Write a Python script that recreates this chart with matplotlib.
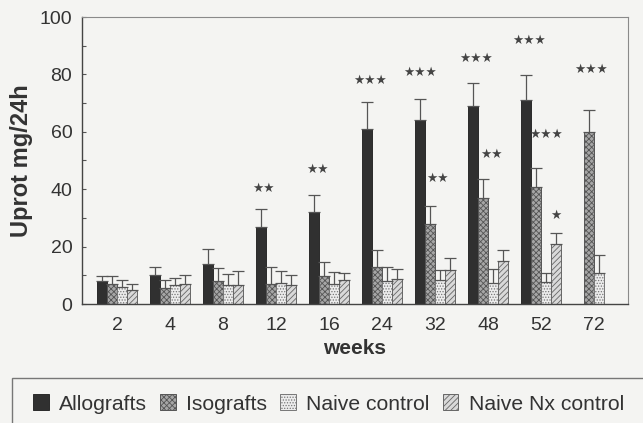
import numpy as np
import matplotlib
matplotlib.use("Agg")
import matplotlib.pyplot as plt
from matplotlib.patches import Rectangle, Patch

plt.rcParams["font.family"] = ["Liberation Sans", "DejaVu Sans"]
plt.rcParams["hatch.linewidth"] = 0.6

weeks = ["2", "4", "8", "12", "16", "24", "32", "48", "52", "72"]
series_names = ["Allografts", "Isografts", "Naive control", "Naive Nx control"]

allo = [7.9, 10.0, 14.1, 27.0, 32.0, 61.0, 64.0, 69.0, 71.0, np.nan]
allo_err = [2.0, 3.0, 5.0, 6.2, 6.0, 9.5, 7.6, 8.0, 8.7, np.nan]
iso = [6.8, 5.7, 7.9, 7.0, 9.8, 12.8, 27.9, 37.0, 40.9, 59.9]
iso_err = [3.1, 2.5, 4.7, 5.9, 4.7, 5.9, 6.1, 6.5, 6.4, 7.8]
naive = [5.8, 6.6, 6.7, 7.3, 6.9, 7.9, 8.4, 7.2, 7.8, 10.9]
naive_err = [2.4, 2.5, 3.9, 4.1, 4.4, 4.9, 3.5, 5.1, 3.1, 6.0]
nx = [4.8, 6.8, 6.5, 6.5, 8.4, 8.8, 11.9, 15.0, 20.9, np.nan]
nx_err = [2.2, 3.3, 5.0, 3.5, 2.5, 3.5, 4.0, 3.8, 3.8, np.nan]

# significance marks: group index, series index, height, text
star_group = [3, 4, 5, 6, 6, 7, 7, 8, 8, 8, 9]
star_series = [0, 0, 0, 0, 1, 0, 1, 0, 1, 3, 1]
star_y = [40.2, 47.0, 78.0, 80.8, 43.8, 85.7, 52.2, 92.0, 59.2, 30.7, 81.9]
star_text = ["**", "**", "***", "***", "**", "***", "**", "***", "***", "*", "***"]
star_shift = [0.3, 0.3, 0.3, 0.0, 0.7, 0.3, 0.8, 0.3, 1.0, 0.0, 0.2]

bg = "#f4f4f2"
fig = plt.figure(figsize=(6.43, 4.23), dpi=100, facecolor=bg)
ax = fig.add_axes([82/643, 1-304/423, (628-82)/643, (304-17)/423])
ax.set_facecolor(bg)

vals = [allo, iso, naive, nx]
errs = [allo_err, iso_err, naive_err, nx_err]
faces = ["#303030", "#a6a6a6", "#ececec", "#d9d9d9"]
hatches = [None, "xxxxxx", "......", "//////"]
edges = ["#2a2a2a", "#555555", "#777777", "#666666"]

w = 0.19
x = np.arange(len(weeks))
for s in range(4):
    xs = x + (s - 1.5) * w
    v = np.array(vals[s])
    e = np.array(errs[s])
    ax.bar(xs, v, width=w, color=faces[s], edgecolor=edges[s], hatch=hatches[s],
           linewidth=0.7, zorder=2)
    ax.errorbar(xs, v, yerr=[np.zeros_like(e), e], fmt="none", ecolor="#555555",
                elinewidth=0.9, capsize=4, capthick=0.9, zorder=3)

for g, s, y, t, d in zip(star_group, star_series, star_y, star_text, star_shift):
    ax.text(x[g] + (s - 1.5 + d) * w, y, "\u2605" * len(t), ha="center", va="center",
            fontsize=9, color="#444444", family="DejaVu Sans")

ax.set_xlim(-0.66, 9.64)
ax.set_ylim(0, 100)
ax.set_xticks(x)
ax.set_xticklabels(weeks)
ax.set_yticks(np.arange(0, 101, 20))
ax.set_yticks(np.arange(0, 101, 10), minor=True)
ax.tick_params(axis="x", length=0, pad=9, labelsize=14, labelcolor="#333333")
ax.tick_params(axis="y", which="both", direction="in", length=3, width=0.8,
               color="#555555", pad=7, labelsize=14, labelcolor="#333333")
ax.set_xlabel("weeks", fontsize=15, fontweight="bold", color="#333333", labelpad=4)
ax.set_ylabel("Uprot mg/24h", fontsize=17, fontweight="bold", color="#333333", labelpad=5)

for side in ["left", "bottom"]:
    ax.spines[side].set_color("#444444")
    ax.spines[side].set_linewidth(1.0)
for side in ["top", "right"]:
    ax.spines[side].set_color("#8a8a8a")
    ax.spines[side].set_linewidth(0.8)

# legend box running off the page edge
fig.patches.append(Rectangle((12/643, -0.05), 1.05, 0.05 + 1 - 378/423,
                             transform=fig.transFigure, facecolor="none",
                             edgecolor="#777777", linewidth=1.0))
handles = [Patch(facecolor=faces[s], edgecolor=edges[s], hatch=hatches[s], linewidth=0.7)
           for s in range(4)]
fig.legend(handles, series_names, loc="center left", bbox_to_anchor=(33/643, 1-404/423),
           ncol=4, frameon=False, fontsize=15.2, borderpad=0, borderaxespad=0,
           handlelength=0.75, handleheight=0.75, handletextpad=0.5, columnspacing=0.6,
           labelcolor="#333333")

fig.savefig("out.png", dpi=100, facecolor=bg)
